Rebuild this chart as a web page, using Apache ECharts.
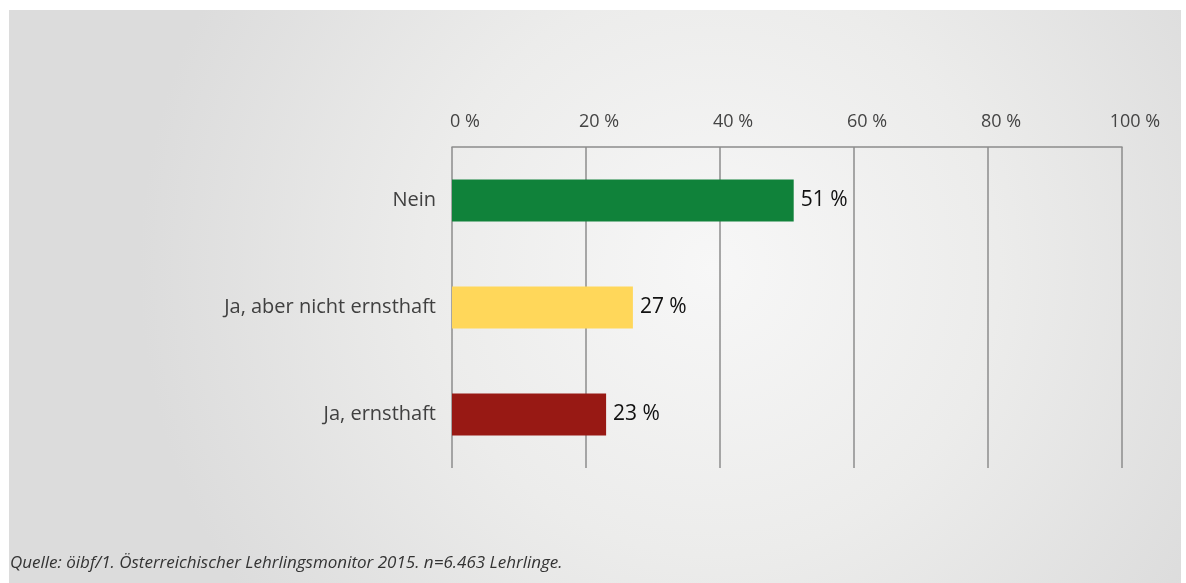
<!DOCTYPE html>
<html>
<head>
<meta charset="utf-8">
<script src="https://cdn.jsdelivr.net/npm/echarts@6/dist/echarts.min.js"></script>
<style>
  html, body { margin: 0; padding: 0; background: #ffffff; }
  #chart { width: 1186px; height: 583px; }
</style>
</head>
<body>
<div id="chart"></div>
<script>
// Antworten (Kategorien) und Anteile in Prozent
const categories = ['Nein', 'Ja, aber nicht ernsthaft', 'Ja, ernsthaft'];
const shares = [51, 27, 23];
const barColors = ['#10823a', '#ffd75a', '#981914'];
const source = 'Quelle: öibf/1. Österreichischer Lehrlingsmonitor 2015. n=6.463 Lehrlinge.';

const font = '"Open Sans", "Noto Sans", sans-serif';

const chart = echarts.init(document.getElementById('chart'), null, { renderer: 'canvas' });

chart.setOption({
  animation: false,
  backgroundColor: '#ffffff',
  graphic: [
    {
      type: 'rect',
      z: -10,
      shape: { x: 9, y: 10, width: 1172, height: 573 },
      style: {
        fill: new echarts.graphic.RadialGradient(0.6, 0.45, 1.0, [
          { offset: 0, color: '#f7f7f7' },
          { offset: 0.5, color: '#ececeb' },
          { offset: 1, color: '#dcdcdc' }
        ])
      },
      silent: true
    },
    {
      type: 'text',
      left: 10,
      top: 555,
      style: {
        text: source,
        font: 'italic 17px ' + font,
        fill: '#333333'
      }
    }
  ],
  grid: { left: 452, right: 64, top: 147, bottom: 115, containLabel: false },
  xAxis: {
    type: 'value',
    position: 'top',
    min: 0,
    max: 100,
    interval: 20,
    axisLine: { show: true, lineStyle: { color: '#8c8c8c', width: 1.5 } },
    axisTick: { show: false },
    splitLine: { show: true, lineStyle: { color: '#8c8c8c', width: 1.5 } },
    axisLabel: {
      margin: 16,
      color: '#444444',
      fontSize: 18,
      fontFamily: font,
      padding: [0, 0, 0, 26],
      formatter: v => v + ' %'
    }
  },
  yAxis: {
    type: 'category',
    inverse: true,
    data: categories,
    axisLine: { show: false },
    axisTick: { show: false },
    axisLabel: {
      margin: 16,
      color: '#404040',
      fontSize: 20,
      fontFamily: font
    }
  },
  series: [{
    type: 'bar',
    barWidth: 42,
    data: shares.map((v, i) => ({ value: v, itemStyle: { color: barColors[i] } })),
    label: {
      show: true,
      position: 'right',
      distance: 7,
      color: '#111111',
      fontSize: 21,
      fontFamily: font,
      formatter: p => p.value + ' %'
    }
  }]
});
</script>
</body>
</html>
